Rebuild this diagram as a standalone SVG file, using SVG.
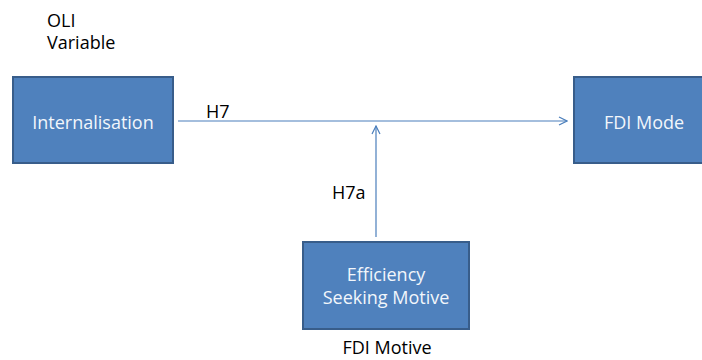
<svg xmlns="http://www.w3.org/2000/svg" width="702" height="360" viewBox="0 0 702 360">
  <style>
    .box { fill: #4f81bd; stroke: #385d8a; stroke-width: 2; }
    .boxtext { font-family: "Open Sans", "Liberation Sans", sans-serif; font-size: 18px; fill: #f2f6fb; text-anchor: middle; }
    .label { font-family: "Open Sans", "Liberation Sans", sans-serif; font-size: 18px; fill: #000000; }
    .conn { stroke: #4a7ebb; stroke-width: 1.2; fill: none; marker-end: url(#arrow); }
  </style>
  <defs>
    <marker id="arrow" viewBox="0 0 10 10" refX="9" refY="5" markerWidth="10" markerHeight="10" markerUnits="userSpaceOnUse" orient="auto">
      <path d="M1,1 L9,5 L1,9" fill="none" stroke="#4a7ebb" stroke-width="1.2"/>
    </marker>
  </defs>
  <rect width="702" height="360" fill="#ffffff"/>

  <text class="label" x="47" y="27">OLI</text>
  <text class="label" x="47" y="49">Variable</text>

  <g id="connectors">
    <line class="conn" x1="178" y1="121" x2="567" y2="121"/>
    <line class="conn" x1="376" y1="237" x2="376" y2="126"/>
    <text class="label" x="206" y="118">H7</text>
    <text class="label" x="332" y="199">H7a</text>
  </g>

  <g id="internalisation">
    <rect class="box" x="13" y="77" width="160" height="86"/>
    <text class="boxtext" x="93" y="129">Internalisation</text>
  </g>

  <g id="fdi-mode">
    <rect class="box" x="574" y="77" width="140" height="86"/>
    <text class="boxtext" x="644" y="129">FDI Mode</text>
  </g>

  <g id="efficiency-seeking-motive">
    <rect class="box" x="303" y="242" width="166" height="87"/>
    <text class="boxtext" x="386" y="281">Efficiency</text>
    <text class="boxtext" x="386" y="304">Seeking Motive</text>
  </g>

  <text class="label" x="387" y="354" text-anchor="middle">FDI Motive</text>
</svg>
